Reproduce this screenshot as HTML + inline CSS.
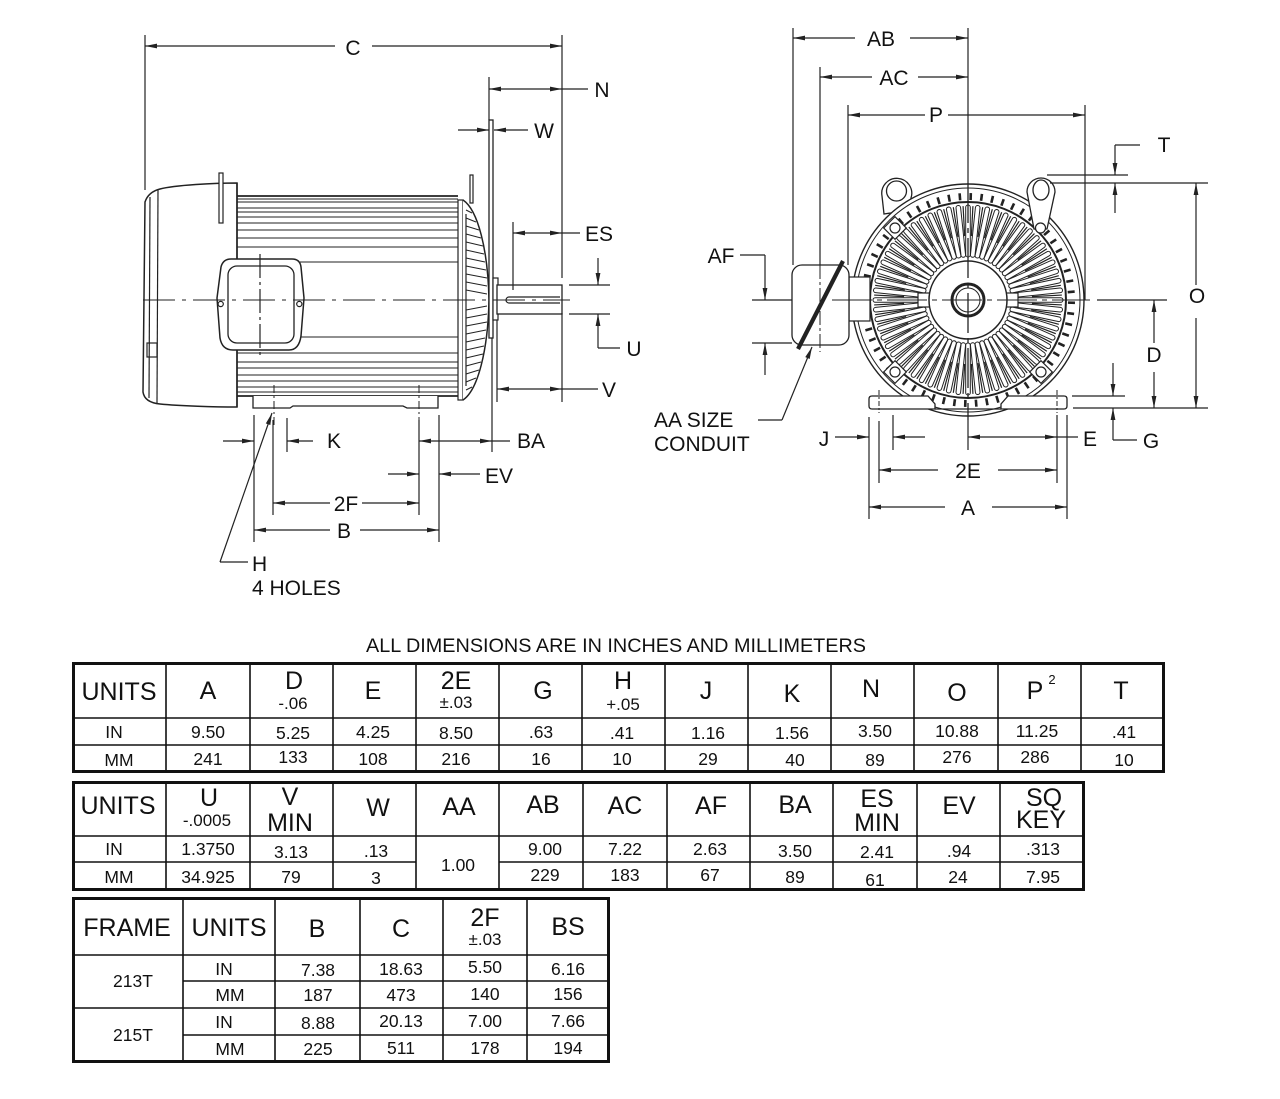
<!DOCTYPE html>
<html><head><meta charset="utf-8"><style>
html,body{margin:0;padding:0;background:#fff;}
svg{display:block;}
text{font-family:"Liberation Sans",Arial,sans-serif;fill:#111;}
</style></head><body>
<svg width="1280" height="1099" viewBox="0 0 1280 1099" xmlns="http://www.w3.org/2000/svg">
<defs>
<marker id="ar" viewBox="0 0 12 6" refX="12" refY="3" markerWidth="12" markerHeight="6" markerUnits="userSpaceOnUse" orient="auto-start-reverse"><path d="M0,0.6 L12,3 L0,5.4 Z" fill="#222"/></marker>
<g id="f1">
 <line x1="0" y1="-100" x2="0" y2="-107" stroke="#222" stroke-width="2.6" transform="rotate(1.5)"/>
 <line x1="0" y1="-94" x2="0" y2="-64" transform="rotate(3)" stroke="#222" stroke-width="1.2"/>
 <rect x="-2.3" y="-95" width="4.6" height="52" rx="2.3" fill="#fff" stroke="#222" stroke-width="1"/>
</g>
<g id="f5"><use href="#f1"/><use href="#f1" transform="rotate(6)"/><use href="#f1" transform="rotate(12)"/><use href="#f1" transform="rotate(18)"/><use href="#f1" transform="rotate(24)"/></g>
</defs>

<!-- ================= SIDE VIEW ================= -->
<g stroke="#222" fill="none" stroke-width="1.2">
 <!-- fan cover -->
 <path d="M237,183 C215,183 175,185 160,189 C152,191 147,196 145,202 L143,392 C144,399 150,403 160,404 C180,406 215,407 237,407 Z" fill="#fff" stroke-width="1.5"/>
 <path d="M150,197 L149,398"/>
 <path d="M158,190 L157,403"/>
 <rect x="147" y="343" width="10" height="14"/>
 <rect x="219" y="173" width="4" height="50" fill="#fff"/>
 <!-- frame -->
 <line x1="237" y1="196" x2="458" y2="196" stroke-width="1.8"/>
 <line x1="237" y1="396" x2="458" y2="396" stroke-width="1.8"/>
 <line x1="237" y1="183" x2="237" y2="407" stroke-width="1.5"/>
 <g stroke-width="1">
  <line x1="237" y1="199" x2="458" y2="199"/>
  <line x1="237" y1="202" x2="458" y2="202"/>
  <line x1="237" y1="208" x2="458" y2="208"/>
  <line x1="237" y1="212" x2="458" y2="212"/>
  <line x1="237" y1="217" x2="458" y2="217"/>
  <line x1="237" y1="223" x2="458" y2="223"/>
  <line x1="237" y1="230" x2="458" y2="230"/>
  <line x1="237" y1="238" x2="458" y2="238"/>
  <line x1="237" y1="247" x2="458" y2="247"/>
  <line x1="300" y1="262" x2="458" y2="262"/>
  <line x1="300" y1="337" x2="458" y2="337"/>
  <line x1="237" y1="353" x2="458" y2="353"/>
  <line x1="237" y1="362" x2="458" y2="362"/>
  <line x1="237" y1="368" x2="458" y2="368"/>
  <line x1="237" y1="375" x2="458" y2="375"/>
  <line x1="237" y1="381" x2="458" y2="381"/>
  <line x1="237" y1="387" x2="458" y2="387"/>
  <line x1="237" y1="392" x2="458" y2="392"/>
 </g>
 <!-- feet -->
 <path d="M253,396 L253,408 L290,408 L293,406 L403,406 L407,408 L438,408 L438,396" fill="#fff" stroke-width="1.3"/>
 <!-- conduit box -->
 <path d="M231,259 L292,259 Q300,259 301,267 L304,298 L301,336 Q299,350 289,350 L233,350 Q222,350 220,338 L217,298 L221,267 Q223,259 231,259 Z" fill="#fff" stroke-width="1.5"/>
 <rect x="228" y="266" width="66" height="77" rx="9" stroke-width="1.3"/>
 <circle cx="220.7" cy="304" r="2.6"/>
 <circle cx="299.3" cy="304" r="2.6"/>
 <line x1="260" y1="254" x2="260" y2="356" stroke-dasharray="24,4,3,4"/>
 <!-- end bell -->
 <rect x="458" y="200" width="5" height="200" fill="#fff"/>
 <path d="M463,200 C478,210 488,250 489,300 C488,350 478,390 463,400" fill="#fff" stroke-width="1.5"/>
 <line x1="466" y1="214" x2="466" y2="386"/>
 <path stroke-width="1" d="M466,210 L472,213 M466,218 L476,222 M466,226 L479,230 M466,234 L481,238 M466,242 L483,246 M466,250 L484,254 M466,258 L485,262 M466,266 L486,270 M466,274 L487,278 M466,282 L487,286 M466,290 L487,294 M466,390 L472,387 M466,382 L476,378 M466,374 L479,370 M466,366 L481,362 M466,358 L483,354 M466,350 L484,346 M466,342 L485,338 M466,334 L486,330 M466,326 L487,322 M466,318 L487,314 M466,310 L487,306"/>
 <rect x="470" y="175" width="3" height="28" fill="#fff"/>
 <!-- flange plate -->
 <rect x="489" y="120" width="4" height="218" fill="#fff" stroke-width="1.3"/>
 <!-- shaft -->
 <rect x="493" y="278" width="5" height="42" fill="#fff"/>
 <rect x="497" y="285" width="65" height="29" fill="#fff" stroke-width="1.3"/>
 <path d="M560,297 L509,297 A3,3 0 0 0 509,303 L560,303"/>
 <!-- centerline -->
 <line x1="143" y1="300" x2="570" y2="300" stroke-dasharray="32,7,4,7" stroke-width="1"/>
 <line x1="274" y1="385" x2="274" y2="425" stroke-dasharray="8,3,2,3" stroke-width="1"/>
 <line x1="419" y1="385" x2="419" y2="425" stroke-dasharray="8,3,2,3" stroke-width="1"/>

 <!-- extension lines -->
 <line x1="145" y1="35" x2="145" y2="190"/>
 <line x1="562" y1="35" x2="562" y2="278"/>
 <line x1="562" y1="313" x2="562" y2="402"/>
 <line x1="489" y1="77" x2="489" y2="120"/>
 <line x1="513" y1="222" x2="513" y2="290"/>
 <line x1="569" y1="285" x2="610" y2="285"/>
 <line x1="569" y1="314" x2="610" y2="314"/>
 <line x1="497" y1="320" x2="497" y2="402"/>
 <line x1="492" y1="338" x2="492" y2="452"/>
 <line x1="254" y1="415" x2="254" y2="542"/>
 <line x1="273" y1="420" x2="273" y2="515"/>
 <line x1="287" y1="418" x2="287" y2="452"/>
 <line x1="419" y1="420" x2="419" y2="515"/>
 <line x1="439" y1="415" x2="439" y2="542"/>

 <!-- dimension lines -->
 <line x1="335" y1="46" x2="145" y2="46" marker-end="url(#ar)"/>
 <line x1="372" y1="46" x2="562" y2="46" marker-end="url(#ar)"/>
 <line x1="489" y1="89" x2="562" y2="89" marker-start="url(#ar)" marker-end="url(#ar)"/>
 <line x1="562" y1="89" x2="588" y2="89"/>
 <line x1="458" y1="130" x2="489" y2="130" marker-end="url(#ar)"/>
 <line x1="528" y1="130" x2="494" y2="130" marker-end="url(#ar)"/>
 <line x1="513" y1="233" x2="562" y2="233" marker-start="url(#ar)" marker-end="url(#ar)"/>
 <line x1="562" y1="233" x2="580" y2="233"/>
 <line x1="598" y1="258" x2="598" y2="285" marker-end="url(#ar)"/>
 <line x1="598" y1="348" x2="598" y2="314" marker-end="url(#ar)"/>
 <line x1="598" y1="348" x2="620" y2="348"/>
 <line x1="497" y1="389" x2="562" y2="389" marker-start="url(#ar)" marker-end="url(#ar)"/>
 <line x1="562" y1="389" x2="598" y2="389"/>
 <line x1="223" y1="441" x2="254" y2="441" marker-end="url(#ar)"/>
 <line x1="313" y1="441" x2="287" y2="441" marker-end="url(#ar)"/>
 <line x1="419" y1="441" x2="492" y2="441" marker-start="url(#ar)" marker-end="url(#ar)"/>
 <line x1="492" y1="441" x2="510" y2="441"/>
 <line x1="388" y1="474" x2="419" y2="474" marker-end="url(#ar)"/>
 <line x1="480" y1="474" x2="439" y2="474" marker-end="url(#ar)"/>
 <line x1="330" y1="503" x2="273" y2="503" marker-end="url(#ar)"/>
 <line x1="362" y1="503" x2="419" y2="503" marker-end="url(#ar)"/>
 <line x1="330" y1="530" x2="254" y2="530" marker-end="url(#ar)"/>
 <line x1="360" y1="530" x2="439" y2="530" marker-end="url(#ar)"/>
 <line x1="220" y1="562" x2="272" y2="413" marker-end="url(#ar)"/>
 <line x1="220" y1="562" x2="248" y2="562"/>
</g>
<g font-size="21">
 <text x="353" y="55" text-anchor="middle">C</text>
 <text x="602" y="97" text-anchor="middle">N</text>
 <text x="544" y="138" text-anchor="middle">W</text>
 <text x="599" y="241" text-anchor="middle">ES</text>
 <text x="634" y="356" text-anchor="middle">U</text>
 <text x="609" y="397" text-anchor="middle">V</text>
 <text x="334" y="448" text-anchor="middle">K</text>
 <text x="531" y="448" text-anchor="middle">BA</text>
 <text x="499" y="483" text-anchor="middle">EV</text>
 <text x="346" y="511" text-anchor="middle">2F</text>
 <text x="344" y="538" text-anchor="middle">B</text>
 <text x="252" y="571">H</text>
 <text x="252" y="595">4 HOLES</text>
</g>

<!-- ================= END VIEW ================= -->
<g stroke="#222" fill="none" stroke-width="1.2">
 <!-- left lug -->
 <path d="M884,214 L882,196 A15,15 0 1 1 911,198 L910,210 Z" fill="#fff" stroke-width="1.3"/>
 <circle cx="896.5" cy="191" r="10" stroke-width="1.3"/>
 <!-- body circles -->
 <circle cx="968" cy="300" r="116" fill="#fff" stroke-width="1.4"/>
 <circle cx="968" cy="300" r="112" stroke-width="1"/>
 <circle cx="968" cy="300" r="98" stroke-width="2"/>
 <g transform="translate(968,300)">
  <use href="#f5"/><use href="#f5" transform="rotate(30)"/><use href="#f5" transform="rotate(60)"/><use href="#f5" transform="rotate(90)"/><use href="#f5" transform="rotate(120)"/><use href="#f5" transform="rotate(150)"/><use href="#f5" transform="rotate(180)"/><use href="#f5" transform="rotate(210)"/><use href="#f5" transform="rotate(240)"/><use href="#f5" transform="rotate(270)"/><use href="#f5" transform="rotate(300)"/><use href="#f5" transform="rotate(330)"/>
 </g>
 <!-- hub -->
 <rect x="918" y="293" width="14" height="14" fill="#fff"/>
 <rect x="1004" y="293" width="14" height="14" fill="#fff"/>
 <circle cx="968" cy="300" r="39" fill="#fff" stroke-width="1.5"/>
 <circle cx="968" cy="300" r="16" stroke-width="3"/>
 <circle cx="968" cy="300" r="12" stroke-width="1"/>
 <!-- bolt bosses -->
 <g fill="#fff">
  <rect x="887" y="220" width="16" height="16" transform="rotate(45 895 228)"/>
  <circle cx="895" cy="228" r="5"/>
  <rect x="887" y="364" width="16" height="16" transform="rotate(45 895 372)"/>
  <circle cx="895" cy="372" r="5"/>
  <rect x="1033" y="364" width="16" height="16" transform="rotate(45 1041 372)"/>
  <circle cx="1041" cy="372" r="5"/>
 </g>
 <!-- right lug -->
 <path d="M1027,192 A14,14 0 0 1 1055,192 L1047,229 L1034,229 Z" fill="#fff" stroke-width="1.3"/>
 <ellipse cx="1041" cy="190" rx="8" ry="10" stroke-width="1.3"/>
 <circle cx="1040.5" cy="228" r="5" fill="#fff"/>
 <!-- feet -->
 <path d="M872,396 L928,396 L935,404 L935,409 L872,409 Q869,409 869,406 L869,399 Q869,396 872,396 Z" fill="#fff" stroke-width="1.3"/>
 <path d="M1064,396 L1008,396 L1001,404 L1001,409 L1064,409 Q1067,409 1067,406 L1067,399 Q1067,396 1064,396 Z" fill="#fff" stroke-width="1.3"/>
 <line x1="935" y1="409" x2="1001" y2="409" stroke-width="1.3"/>
 <line x1="879" y1="390" x2="879" y2="413" stroke-dasharray="5,2,2,2" stroke-width="1"/>
 <line x1="1057" y1="390" x2="1057" y2="413" stroke-dasharray="5,2,2,2" stroke-width="1"/>
 <!-- conduit box -->
 <rect x="849" y="277" width="21" height="44" fill="#fff"/>
 <rect x="792" y="265" width="57" height="80" rx="10" fill="#fff" stroke-width="1.3"/>
 <line x1="820" y1="265" x2="820" y2="352" stroke-dasharray="14,3,3,3" stroke-width="1"/>
 <line x1="843" y1="261" x2="798" y2="349" stroke-width="4.2"/>
 <!-- centerlines -->
 <line x1="968" y1="183" x2="968" y2="420" stroke-dasharray="40,5,5,5" stroke-width="1.3"/>
 <line x1="832" y1="300" x2="1090" y2="300" stroke-dasharray="40,5,5,5" stroke-width="1.1"/>

 <!-- extension lines -->
 <line x1="793" y1="28" x2="793" y2="265"/>
 <line x1="820" y1="67" x2="820" y2="265"/>
 <line x1="848" y1="105" x2="848" y2="265"/>
 <line x1="968" y1="28" x2="968" y2="183"/>
 <line x1="1085" y1="105" x2="1085" y2="300"/>
 <line x1="1047" y1="175" x2="1128" y2="175"/>
 <line x1="1050" y1="183" x2="1208" y2="183"/>
 <line x1="1097" y1="300" x2="1167" y2="300"/>
 <line x1="1072" y1="396" x2="1125" y2="396"/>
 <line x1="1073" y1="408" x2="1208" y2="408"/>
 <line x1="752" y1="300" x2="792" y2="300"/>
 <line x1="752" y1="343" x2="792" y2="343"/>
 <line x1="869" y1="417" x2="869" y2="519"/>
 <line x1="879" y1="421" x2="879" y2="483"/>
 <line x1="893" y1="415" x2="893" y2="450"/>
 <line x1="968" y1="420" x2="968" y2="450"/>
 <line x1="1057" y1="415" x2="1057" y2="483"/>
 <line x1="1067" y1="415" x2="1067" y2="519"/>

 <!-- dimension lines -->
 <line x1="855" y1="38" x2="793" y2="38" marker-end="url(#ar)"/>
 <line x1="910" y1="38" x2="968" y2="38" marker-end="url(#ar)"/>
 <line x1="872" y1="77" x2="820" y2="77" marker-end="url(#ar)"/>
 <line x1="918" y1="77" x2="968" y2="77" marker-end="url(#ar)"/>
 <line x1="925" y1="115" x2="848" y2="115" marker-end="url(#ar)"/>
 <line x1="948" y1="115" x2="1085" y2="115" marker-end="url(#ar)"/>
 <line x1="1140" y1="145" x2="1115" y2="145"/>
 <line x1="1115" y1="145" x2="1115" y2="175" marker-end="url(#ar)"/>
 <line x1="1115" y1="213" x2="1115" y2="183" marker-end="url(#ar)"/>
 <line x1="1196" y1="285" x2="1196" y2="183" marker-end="url(#ar)"/>
 <line x1="1196" y1="318" x2="1196" y2="408" marker-end="url(#ar)"/>
 <line x1="1154" y1="343" x2="1154" y2="300" marker-end="url(#ar)"/>
 <line x1="1154" y1="372" x2="1154" y2="408" marker-end="url(#ar)"/>
 <line x1="1113" y1="363" x2="1113" y2="396" marker-end="url(#ar)"/>
 <line x1="1113" y1="440" x2="1113" y2="408" marker-end="url(#ar)"/>
 <line x1="1113" y1="440" x2="1137" y2="440"/>
 <line x1="740" y1="255" x2="765" y2="255"/>
 <line x1="765" y1="255" x2="765" y2="300" marker-end="url(#ar)"/>
 <line x1="765" y1="375" x2="765" y2="343" marker-end="url(#ar)"/>
 <line x1="758" y1="420" x2="782" y2="420"/>
 <line x1="782" y1="420" x2="812" y2="347" marker-end="url(#ar)"/>
 <line x1="835" y1="437" x2="869" y2="437" marker-end="url(#ar)"/>
 <line x1="925" y1="437" x2="893" y2="437" marker-end="url(#ar)"/>
 <line x1="968" y1="437" x2="1057" y2="437" marker-start="url(#ar)" marker-end="url(#ar)"/>
 <line x1="1057" y1="437" x2="1078" y2="437"/>
 <line x1="938" y1="470" x2="879" y2="470" marker-end="url(#ar)"/>
 <line x1="998" y1="470" x2="1057" y2="470" marker-end="url(#ar)"/>
 <line x1="945" y1="507" x2="869" y2="507" marker-end="url(#ar)"/>
 <line x1="992" y1="507" x2="1067" y2="507" marker-end="url(#ar)"/>
</g>
<g font-size="21">
 <text x="881" y="46" text-anchor="middle">AB</text>
 <text x="894" y="85" text-anchor="middle">AC</text>
 <text x="936" y="122" text-anchor="middle">P</text>
 <text x="1164" y="152" text-anchor="middle">T</text>
 <text x="1197" y="303" text-anchor="middle">O</text>
 <text x="1154" y="362" text-anchor="middle">D</text>
 <text x="721" y="263" text-anchor="middle">AF</text>
 <text x="654" y="427">AA SIZE</text>
 <text x="654" y="451">CONDUIT</text>
 <text x="824" y="446" text-anchor="middle">J</text>
 <text x="1090" y="446" text-anchor="middle">E</text>
 <text x="1151" y="448" text-anchor="middle">G</text>
 <text x="968" y="478" text-anchor="middle">2E</text>
 <text x="968" y="515" text-anchor="middle">A</text>
</g>

<!-- ================= TABLES ================= -->
<text x="616" y="652" text-anchor="middle" font-size="19" textLength="500" lengthAdjust="spacingAndGlyphs">ALL DIMENSIONS ARE IN INCHES AND MILLIMETERS</text>

<g stroke="#111" fill="none">
 <!-- table 1 -->
 <rect x="73.5" y="663.5" width="1090" height="108" stroke-width="3"/>
 <g stroke-width="1.6">
  <line x1="166" y1="663" x2="166" y2="772"/><line x1="250" y1="663" x2="250" y2="772"/>
  <line x1="333" y1="663" x2="333" y2="772"/><line x1="416" y1="663" x2="416" y2="772"/>
  <line x1="499" y1="663" x2="499" y2="772"/><line x1="582" y1="663" x2="582" y2="772"/>
  <line x1="665" y1="663" x2="665" y2="772"/><line x1="748" y1="663" x2="748" y2="772"/>
  <line x1="831" y1="663" x2="831" y2="772"/><line x1="914" y1="663" x2="914" y2="772"/>
  <line x1="998" y1="663" x2="998" y2="772"/><line x1="1081" y1="663" x2="1081" y2="772"/>
  <line x1="73" y1="718" x2="1164" y2="718"/><line x1="73" y1="745" x2="1164" y2="745"/>
 </g>
 <!-- table 2 -->
 <rect x="73.5" y="782.5" width="1010" height="107" stroke-width="3"/>
 <g stroke-width="1.6">
  <line x1="166" y1="782" x2="166" y2="890"/><line x1="250" y1="782" x2="250" y2="890"/>
  <line x1="333" y1="782" x2="333" y2="890"/><line x1="416" y1="782" x2="416" y2="890"/>
  <line x1="499" y1="782" x2="499" y2="890"/><line x1="583" y1="782" x2="583" y2="890"/>
  <line x1="667" y1="782" x2="667" y2="890"/><line x1="750" y1="782" x2="750" y2="890"/>
  <line x1="833" y1="782" x2="833" y2="890"/><line x1="917" y1="782" x2="917" y2="890"/>
  <line x1="1000" y1="782" x2="1000" y2="890"/>
  <line x1="73" y1="836" x2="1084" y2="836"/>
  <line x1="73" y1="862" x2="416" y2="862"/><line x1="499" y1="862" x2="1084" y2="862"/>
 </g>
 <!-- table 3 -->
 <rect x="73.5" y="898.5" width="535" height="163" stroke-width="3"/>
 <g stroke-width="1.6">
  <line x1="183" y1="898" x2="183" y2="1062"/><line x1="275" y1="898" x2="275" y2="1062"/>
  <line x1="360" y1="898" x2="360" y2="1062"/><line x1="443" y1="898" x2="443" y2="1062"/>
  <line x1="527" y1="898" x2="527" y2="1062"/>
  <line x1="73" y1="955" x2="609" y2="955"/>
  <line x1="183" y1="981" x2="609" y2="981"/>
  <line x1="73" y1="1008" x2="609" y2="1008"/>
  <line x1="183" y1="1035" x2="609" y2="1035"/>
 </g>
</g>

<!-- table 1 text -->
<g font-size="25" text-anchor="middle">
 <text x="119" y="700">UNITS</text>
 <text x="208" y="699">A</text>
 <text x="294" y="689">D</text>
 <text x="373" y="699">E</text>
 <text x="456" y="689">2E</text>
 <text x="543" y="699">G</text>
 <text x="623" y="689">H</text>
 <text x="706" y="699">J</text>
 <text x="792" y="702">K</text>
 <text x="871" y="697">N</text>
 <text x="957" y="701">O</text>
 <text x="1035" y="699">P</text>
 <text x="1121" y="699">T</text>
</g>
<g font-size="17" text-anchor="middle">
 <text x="293" y="709">-.06</text>
 <text x="456" y="708">±.03</text>
 <text x="623" y="710">+.05</text>
 <text x="1052" y="684" font-size="13">2</text>
</g>
<g font-size="17.5" text-anchor="middle">
 <text x="114" y="738">IN</text>
 <text x="208" y="738">9.50</text><text x="293" y="739">5.25</text><text x="373" y="738">4.25</text>
 <text x="456" y="739">8.50</text><text x="541" y="738">.63</text><text x="622" y="739">.41</text>
 <text x="708" y="739">1.16</text><text x="792" y="739">1.56</text><text x="875" y="737">3.50</text>
 <text x="957" y="737">10.88</text><text x="1037" y="737">11.25</text><text x="1124" y="738">.41</text>
 <text x="119" y="766">MM</text>
 <text x="208" y="765">241</text><text x="293" y="763">133</text><text x="373" y="765">108</text>
 <text x="456" y="765">216</text><text x="541" y="765">16</text><text x="622" y="765">10</text>
 <text x="708" y="765">29</text><text x="795" y="766">40</text><text x="875" y="766">89</text>
 <text x="957" y="763">276</text><text x="1035" y="763">286</text><text x="1124" y="766">10</text>
</g>

<!-- table 2 text -->
<g font-size="25" text-anchor="middle">
 <text x="118" y="814">UNITS</text>
 <text x="209" y="806">U</text>
 <text x="290" y="805">V</text>
 <text x="290" y="831">MIN</text>
 <text x="378" y="816">W</text>
 <text x="459" y="815">AA</text>
 <text x="543" y="813">AB</text>
 <text x="625" y="814">AC</text>
 <text x="711" y="814">AF</text>
 <text x="795" y="813">BA</text>
 <text x="877" y="807">ES</text>
 <text x="877" y="831">MIN</text>
 <text x="959" y="814">EV</text>
 <text x="1044" y="806">SQ</text>
 <text x="1041" y="828">KEY</text>
</g>
<g font-size="17" text-anchor="middle">
 <text x="207" y="826">-.0005</text>
</g>
<g font-size="17.5" text-anchor="middle">
 <text x="114" y="855">IN</text>
 <text x="208" y="855">1.3750</text><text x="291" y="858">3.13</text><text x="376" y="857">.13</text>
 <text x="458" y="871">1.00</text>
 <text x="545" y="855">9.00</text><text x="625" y="855">7.22</text><text x="710" y="855">2.63</text>
 <text x="795" y="857">3.50</text><text x="877" y="858">2.41</text><text x="959" y="857">.94</text>
 <text x="1043" y="855">.313</text>
 <text x="119" y="883">MM</text>
 <text x="208" y="883">34.925</text><text x="291" y="883">79</text><text x="376" y="884">3</text>
 <text x="545" y="881">229</text><text x="625" y="881">183</text><text x="710" y="881">67</text>
 <text x="795" y="883">89</text><text x="875" y="886">61</text><text x="958" y="883">24</text>
 <text x="1043" y="883">7.95</text>
</g>

<!-- table 3 text -->
<g font-size="25" text-anchor="middle">
 <text x="127" y="936">FRAME</text>
 <text x="229" y="936">UNITS</text>
 <text x="317" y="937">B</text>
 <text x="401" y="937">C</text>
 <text x="485" y="926">2F</text>
 <text x="568" y="935">BS</text>
</g>
<text x="485" y="945" font-size="17" text-anchor="middle">±.03</text>
<g font-size="17.5" text-anchor="middle">
 <text x="133" y="987">213T</text>
 <text x="224" y="975">IN</text><text x="230" y="1001">MM</text>
 <text x="318" y="976">7.38</text><text x="401" y="975">18.63</text><text x="485" y="973">5.50</text><text x="568" y="975">6.16</text>
 <text x="318" y="1001">187</text><text x="401" y="1001">473</text><text x="485" y="1000">140</text><text x="568" y="1000">156</text>
 <text x="133" y="1041">215T</text>
 <text x="224" y="1028">IN</text><text x="230" y="1055">MM</text>
 <text x="318" y="1029">8.88</text><text x="401" y="1027">20.13</text><text x="485" y="1027">7.00</text><text x="568" y="1027">7.66</text>
 <text x="318" y="1055">225</text><text x="401" y="1054">511</text><text x="485" y="1054">178</text><text x="568" y="1054">194</text>
</g>
</svg>
</body></html>
